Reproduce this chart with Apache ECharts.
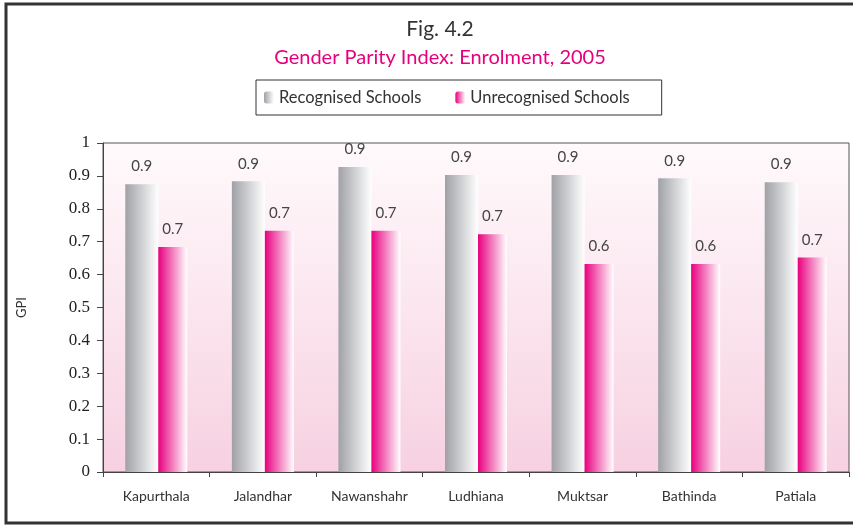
<!DOCTYPE html>
<html>
<head>
<meta charset="utf-8">
<script src="https://cdn.jsdelivr.net/npm/echarts@6/dist/echarts.min.js"></script>
<style>
html, body { margin: 0; padding: 0; background: #fff; }
#main { width: 853px; height: 527px; }
</style>
</head>
<body>
<div id="main"></div>
<script>
var districts = ['Kapurthala', 'Jalandhar', 'Nawanshahr', 'Ludhiana', 'Muktsar', 'Bathinda', 'Patiala'];
var recognised = [0.875, 0.884, 0.927, 0.903, 0.903, 0.893, 0.881];
var unrecognised = [0.684, 0.733, 0.733, 0.723, 0.632, 0.632, 0.652];
var yTicks = [0, 0.1, 0.2, 0.3, 0.4, 0.5, 0.6, 0.7, 0.8, 0.9, 1];

var sansFont = 'Lato, "Open Sans", sans-serif';

function barGradient(from) {
    return new echarts.graphic.LinearGradient(0, 0, 1, 0, [
        { offset: 0, color: from },
        { offset: 1, color: '#ffffff' }
    ]);
}

var myChart = echarts.init(document.getElementById('main'));

var option = {
    animation: false,
    title: [
        {
            text: 'Fig. 4.2',
            left: 435,
            textAlign: 'center',
            top: 14,
            textStyle: { fontFamily: sansFont, fontSize: 21, fontWeight: 'normal', color: '#333' }
        },
        {
            text: 'Gender Parity Index: Enrolment, 2005',
            left: 435,
            textAlign: 'center',
            top: 43,
            textStyle: { fontFamily: sansFont, fontSize: 20, fontWeight: 'normal', color: '#e6007e' }
        }
    ],
    legend: {
        top: 80,
        left: 256,
        itemWidth: 10,
        itemHeight: 12,
        itemGap: 34,
        padding: [9, 32, 9, 8],
        borderColor: '#333',
        borderWidth: 1,
        textStyle: { fontFamily: sansFont, fontSize: 16.5, color: '#333' },
        data: ['Recognised Schools', 'Unrecognised Schools']
    },
    grid: {
        left: 103,
        right: 4,
        top: 143,
        bottom: 55,
        show: true,
        borderColor: '#555',
        borderWidth: 1,
        backgroundColor: new echarts.graphic.LinearGradient(0, 0, 0, 1, [
            { offset: 0, color: '#fffafc' },
            { offset: 1, color: '#f7d1e1' }
        ])
    },
    graphic: [
        {
            type: 'polyline',
            shape: { points: [[853, 4], [6, 4], [6, 523], [853, 523]] },
            style: { stroke: '#333', lineWidth: 3, fill: null }
        }
    ],
    xAxis: {
        type: 'category',
        data: districts,
        axisLine: { lineStyle: { color: '#444' } },
        axisTick: { show: true, length: 5, lineStyle: { color: '#444' } },
        axisLabel: { fontFamily: sansFont, fontSize: 14, color: '#333', margin: 17 }
    },
    yAxis: {
        type: 'value',
        min: 0,
        max: 1,
        interval: 0.1,
        name: 'GPI',
        nameLocation: 'middle',
        nameGap: 75,
        nameTextStyle: { fontFamily: sansFont, fontSize: 13, color: '#333' },
        splitLine: { show: false },
        axisLine: { show: true, lineStyle: { color: '#444' } },
        axisTick: { show: true, length: 6, lineStyle: { color: '#444' } },
        axisLabel: {
            fontFamily: '"Liberation Serif", serif',
            fontSize: 17,
            color: '#222',
            margin: 13,
            formatter: function (v) {
                var t = yTicks.filter(function (x) { return Math.abs(x - v) < 1e-6; });
                return t.length ? String(t[0]) : '';
            }
        }
    },
    series: [
        {
            name: 'Recognised Schools',
            type: 'bar',
            barWidth: 33,
            barGap: '0%',
            data: recognised,
            itemStyle: { color: barGradient('#9fa1a6') },
            label: {
                show: true,
                position: 'top',
                distance: 10,
                fontFamily: sansFont,
                fontSize: 15,
                color: '#444',
                formatter: function (p) { return p.value.toFixed(1); }
            }
        },
        {
            name: 'Unrecognised Schools',
            type: 'bar',
            barWidth: 29,
            data: unrecognised,
            itemStyle: { color: barGradient('#e8007f') },
            label: {
                show: true,
                position: 'top',
                distance: 10,
                fontFamily: sansFont,
                fontSize: 15,
                color: '#444',
                formatter: function (p) { return p.value.toFixed(1); }
            }
        }
    ]
};

myChart.setOption(option);
</script>
</body>
</html>
